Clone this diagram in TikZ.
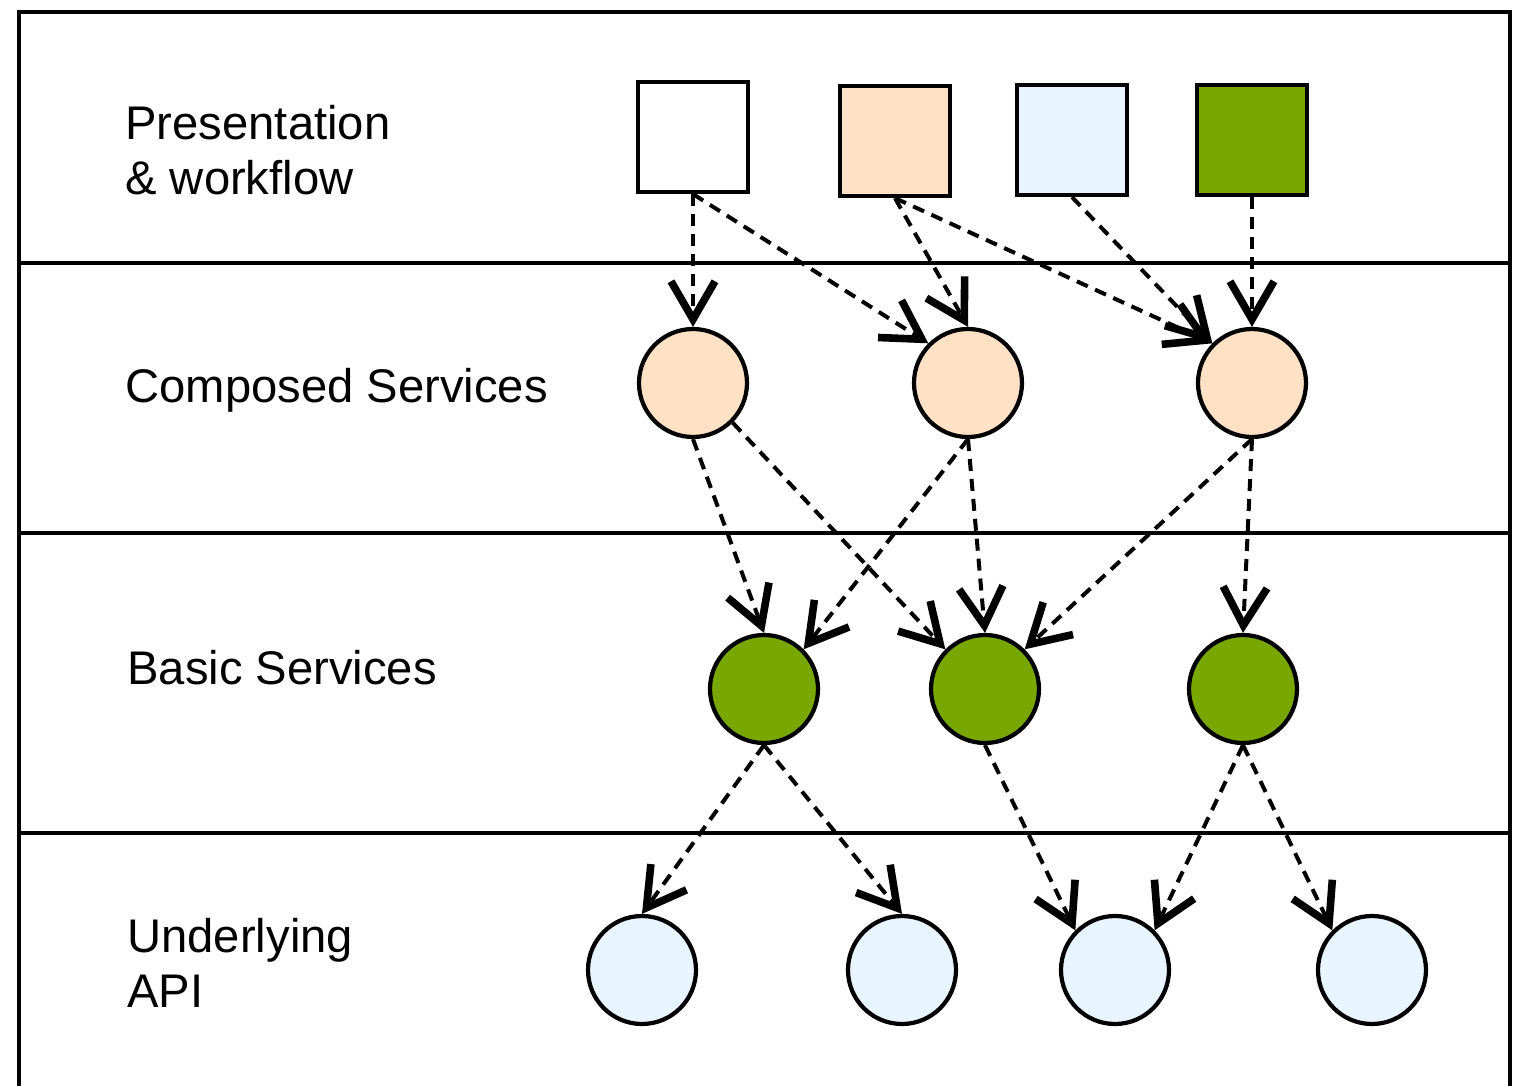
\documentclass[tikz,border=0pt]{standalone}
\usepackage{fontspec}
\setmainfont{Liberation Sans}
\usetikzlibrary{arrows.meta}
\definecolor{peach}{HTML}{FFE2C6}
\definecolor{paleblue}{HTML}{E8F4FF}
\definecolor{leaf}{HTML}{78A800}
\begin{document}
\begin{tikzpicture} [x = 0.5pt, y = -0.5pt,
	box/.style = {draw, line width = 2.1pt, minimum size = 55pt, inner sep = 0pt},
	svc/.style = {draw, circle, line width = 2.1pt, minimum size = 54pt, inner sep = 0pt},
	layer/.style = {font = \fontsize{23.6}{27.5}\selectfont, align = left, anchor = west, inner sep = 0pt},
	call/.style = {line width = 2pt, dash pattern = on 6pt off 4pt,
		-{Straight Barb[length = 19pt, width = 22pt, line width = 3.8pt]}}]
	\useasboundingbox (0,0) rectangle (1523,1086);
	\draw [line width = 2pt] (19,1090) -- (19,12) -- (1510,12) -- (1510,1090);
	\draw [line width = 2pt] (19,263) -- (1510,263);
	\draw [line width = 2pt] (19,533) -- (1510,533);
	\draw [line width = 2pt] (19,833) -- (1510,833);
	\node [layer] (lpres) at (125,150) {Presentation\\\& workflow};
	\node [layer] (lcomp) at (125,390) {Composed Services};
	\node [layer] (lbasic) at (127,668) {Basic Services};
	\node [layer] (lapi) at (127,963) {Underlying\\API};
	\node [box, fill = white] (sq1) at (693,137) {};
	\node [box, fill = peach] (sq2) at (895,141) {};
	\node [box, fill = paleblue] (sq3) at (1072,140) {};
	\node [box, fill = leaf] (sq4) at (1252,140) {};
	\node [svc, fill = peach] (cs1) at (693,383) {};
	\node [svc, fill = peach] (cs2) at (968,383) {};
	\node [svc, fill = peach] (cs3) at (1252,383) {};
	\node [svc, fill = leaf] (bs1) at (764,689) {};
	\node [svc, fill = leaf] (bs2) at (985,689) {};
	\node [svc, fill = leaf] (bs3) at (1243,689) {};
	\node [svc, fill = paleblue] (api1) at (642,970) {};
	\node [svc, fill = paleblue] (api2) at (902,970) {};
	\node [svc, fill = paleblue] (api3) at (1115,970) {};
	\node [svc, fill = paleblue] (api4) at (1372,970) {};
	\draw [call] (sq1.south) -- (cs1.north);
	\draw [call] (sq1.south) -- (cs2.north west);
	\draw [call] (sq2.south) -- (cs2.north);
	\draw [call] (sq2.south) -- (cs3.north west);
	\draw [call] (sq3.south) -- (cs3.north west);
	\draw [call] (sq4.south) -- (cs3.north);
	\draw [call] (cs1.south) -- (bs1.north);
	\draw [call] (cs1.south east) -- (bs2.north west);
	\draw [call] (cs2.south) -- (bs1.north east);
	\draw [call] (cs2.south) -- (bs2.north);
	\draw [call] (cs3.south) -- (bs2.north east);
	\draw [call] (cs3.south) -- (bs3.north);
	\draw [call] (bs1.south) -- (api1.north);
	\draw [call] (bs1.south) -- (api2.north);
	\draw [call] (bs2.south) -- (api3.north west);
	\draw [call] (bs3.south) -- (api3.north east);
	\draw [call] (bs3.south) -- (api4.north west);
\end{tikzpicture}
\end{document}
